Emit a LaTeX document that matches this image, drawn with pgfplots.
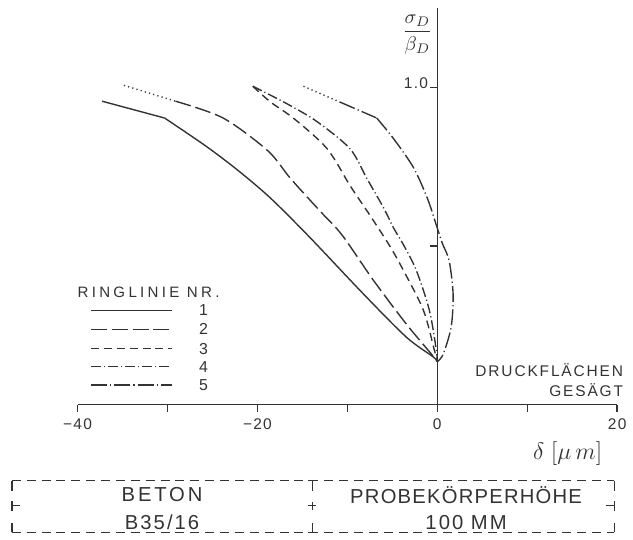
\documentclass[border=0pt]{standalone}
\usepackage{pgfplots}
\pgfplotsset{compat=1.18}
\usepackage{fontspec}
\setmainfont{Liberation Sans}[LetterSpace=8]
\definecolor{ink}{HTML}{333333}
\begin{document}
\begin{tikzpicture}[font=\fontsize{7.6}{9}\selectfont]
\begin{axis}[
  x=4.535pt, y=160pt,
  xmin=-40, xmax=20, ymin=0, ymax=1.25,
  axis x line=bottom, axis y line=center,
  axis line style={ink, line width=0.7pt, -},
  clip=false,
  xtick={-40,-30,...,20},
  xticklabels={−40,,−20,,0,,20},
  ytick=\empty,
  tick align=outside,
  major tick length=3.5pt,
  tick style={ink, line width=0.7pt},
  /pgf/number format/assume math mode=true,
  ticklabel style={font=\fontsize{7.8}{9}\selectfont, text=ink},
  every axis plot/.append style={ink, line width=0.7pt},
]
% curve 1 solid
\addplot[solid] coordinates {(-37.27,0.956) (-30.32,0.903)};
\addplot[solid, smooth, tension=0.5] coordinates {(-30.32,0.903) (-25.80,0.816) (-22.16,0.738) (-18.52,0.650) (-14.11,0.525) (-8.16,0.347) (-3.42,0.212) (-0.44,0.150) (0,0.135)};
% curve 2
\addplot[dash pattern=on 0.6pt off 1.6pt] coordinates {(-34.84,1.006) (-29.11,0.956)};
\addplot[dash pattern=on 8pt off 2.5pt, smooth, tension=0.5] coordinates {(-29.11,0.956) (-23.81,0.903) (-18.85,0.800) (-16.32,0.7125) (-13.01,0.609) (-10.58,0.534) (-7.06,0.390) (-3.42,0.253) (-0.44,0.152) (0,0.135)};
% curve 3
\addplot[dash pattern=on 4pt off 2.5pt, smooth, tension=0.5] coordinates {(-20.51,1.003) (-18.52,0.953) (-15.88,0.900) (-12.24,0.806) (-9.70,0.690) (-7.50,0.597) (-5.29,0.500) (-3.75,0.422) (-1.54,0.297) (-0.33,0.172) (0,0.135)};
% curve 4
\addplot[dash pattern=on 5pt off 1.5pt on 0.6pt off 1.5pt, smooth, tension=0.5] coordinates {(-20.51,1.003) (-16.65,0.947) (-13.34,0.891) (-9.70,0.806) (-7.83,0.7125) (-5.95,0.619) (-4.85,0.556) (-3.75,0.503) (-2.32,0.422) (-0.88,0.297) (-0.11,0.172) (0,0.135)};
% curve 5
\addplot[dash pattern=on 0.6pt off 1.6pt] coordinates {(-14.88,1.003) (-10.80,0.953)};
\addplot[dash pattern=on 8pt off 1.6pt on 0.6pt off 1.6pt] coordinates {(-10.80,0.953) (-6.73,0.903)};
\addplot[dash pattern=on 8pt off 1.6pt on 0.6pt off 1.6pt, smooth, tension=0.5] coordinates {(-6.73,0.903) (-4.85,0.8375) (-2.65,0.747) (-1.10,0.650) (-0.11,0.566) (0.55,0.509) (1.32,0.453) (1.76,0.347) (1.54,0.244) (0.66,0.159) (0,0.135)};

% y ticks and labels
\draw[ink, line width=0.7pt] (axis cs:0,1) -- (axis cs:-0.8,1);
\draw[ink, line width=0.7pt] (axis cs:0,0.5) -- (axis cs:-0.8,0.5);
\node[text=ink, anchor=east, inner sep=0pt, font=\fontsize{7.8}{9}\selectfont] at (axis cs:-1.0,1.012) {1.0};
\node[text=ink] at (axis cs:-2.2,1.166) {\fontsize{10}{12}\selectfont$\displaystyle\frac{\sigma_D}{\beta_D}$};
\node[text=ink] at (axis cs:14.5,-0.153) {\fontsize{11.5}{13}\selectfont$\delta\;[\mu\, m]$};

% legend
\node[text=ink, font=\fontsize{7.6}{9}\selectfont\addfontfeature{LetterSpace=22}] at (axis cs:-32.1,0.353) {RINGLINIE NR.};
\draw[ink, line width=0.7pt] (axis cs:-38.5,0.297) -- (axis cs:-29.5,0.297);
\draw[ink, line width=0.7pt, dash pattern=on 8pt off 2.5pt] (axis cs:-38.5,0.237) -- (axis cs:-29.5,0.237);
\draw[ink, line width=0.7pt, dash pattern=on 4pt off 2.5pt] (axis cs:-38.5,0.176) -- (axis cs:-29.5,0.176);
\draw[ink, line width=0.7pt, dash pattern=on 5pt off 1.5pt on 0.6pt off 1.5pt] (axis cs:-38.5,0.119) -- (axis cs:-29.5,0.119);
\draw[ink, line width=0.7pt, dash pattern=on 8pt off 1.6pt on 0.6pt off 1.6pt] (axis cs:-38.5,0.062) -- (axis cs:-29.5,0.062);
\node[text=ink, font=\fontsize{8}{9}\selectfont] at (axis cs:-26.0,0.297) {1};
\node[text=ink, font=\fontsize{8}{9}\selectfont] at (axis cs:-26.0,0.237) {2};
\node[text=ink, font=\fontsize{8}{9}\selectfont] at (axis cs:-26.0,0.176) {3};
\node[text=ink, font=\fontsize{8}{9}\selectfont] at (axis cs:-26.0,0.119) {4};
\node[text=ink, font=\fontsize{8}{9}\selectfont] at (axis cs:-26.0,0.062) {5};
\node[text=ink, anchor=east, inner sep=0pt, font=\fontsize{7.8}{9}\selectfont\addfontfeature{LetterSpace=12}] at (axis cs:20.7,0.109) {DRUCKFLÄCHEN};
\node[text=ink, anchor=east, inner sep=0pt, font=\fontsize{7.8}{9}\selectfont\addfontfeature{LetterSpace=12}] at (axis cs:20.7,0.047) {GESÄGT};

% bottom box
\draw[ink, line width=0.7pt, dash pattern=on 4.5pt off 3pt] (axis cs:-47.3,-0.240) -- (axis cs:19.7,-0.240);
\draw[ink, line width=0.7pt, dash pattern=on 4.5pt off 3pt] (axis cs:-47.3,-0.403) -- (axis cs:19.7,-0.403);
\draw[ink, line width=0.7pt] (axis cs:-47.3,-0.240) -- (axis cs:-47.3,-0.271);
\draw[ink, line width=0.7pt] (axis cs:-47.3,-0.403) -- (axis cs:-47.3,-0.372);
\draw[ink, line width=0.7pt] (axis cs:-47.3,-0.335) -- (axis cs:-47.3,-0.303);
\draw[ink, line width=0.7pt] (axis cs:-47.3,-0.319) -- (axis cs:-46.4,-0.319);
\draw[ink, line width=0.7pt] (axis cs:19.7,-0.240) -- (axis cs:19.7,-0.271);
\draw[ink, line width=0.7pt] (axis cs:19.7,-0.403) -- (axis cs:19.7,-0.372);
\draw[ink, line width=0.7pt] (axis cs:19.7,-0.335) -- (axis cs:19.7,-0.303);
\draw[ink, line width=0.7pt] (axis cs:19.7,-0.319) -- (axis cs:18.8,-0.319);
\draw[ink, line width=0.7pt] (axis cs:-13.9,-0.240) -- (axis cs:-13.9,-0.271);
\draw[ink, line width=0.7pt] (axis cs:-14.35,-0.240) -- (axis cs:-13.45,-0.240);
\draw[ink, line width=0.7pt] (axis cs:-13.9,-0.403) -- (axis cs:-13.9,-0.372);
\draw[ink, line width=0.7pt] (axis cs:-14.35,-0.403) -- (axis cs:-13.45,-0.403);
\draw[ink, line width=0.7pt] (axis cs:-14.35,-0.319) -- (axis cs:-13.45,-0.319);
\draw[ink, line width=0.7pt] (axis cs:-13.9,-0.331) -- (axis cs:-13.9,-0.307);
\node[text=ink, font=\fontsize{10.2}{12}\selectfont\addfontfeature{LetterSpace=14}] at (axis cs:-30.6,-0.284) {BETON};
\node[text=ink, font=\fontsize{10.2}{12}\selectfont\addfontfeature{LetterSpace=10}] at (axis cs:-30.6,-0.372) {B35/16};
\node[text=ink, font=\fontsize{10.2}{12}\selectfont\addfontfeature{LetterSpace=6}] at (axis cs:3.2,-0.284) {PROBEKÖRPERHÖHE};
\node[text=ink, font=\fontsize{10.2}{12}\selectfont\addfontfeature{LetterSpace=10}] at (axis cs:3.2,-0.372) {100 MM};

\coordinate (bl) at (axis cs:-48.62,-0.425);
\coordinate (tr) at (axis cs:21.17,1.275);
\end{axis}
\path (bl) rectangle (tr);
\end{tikzpicture}
\end{document}
